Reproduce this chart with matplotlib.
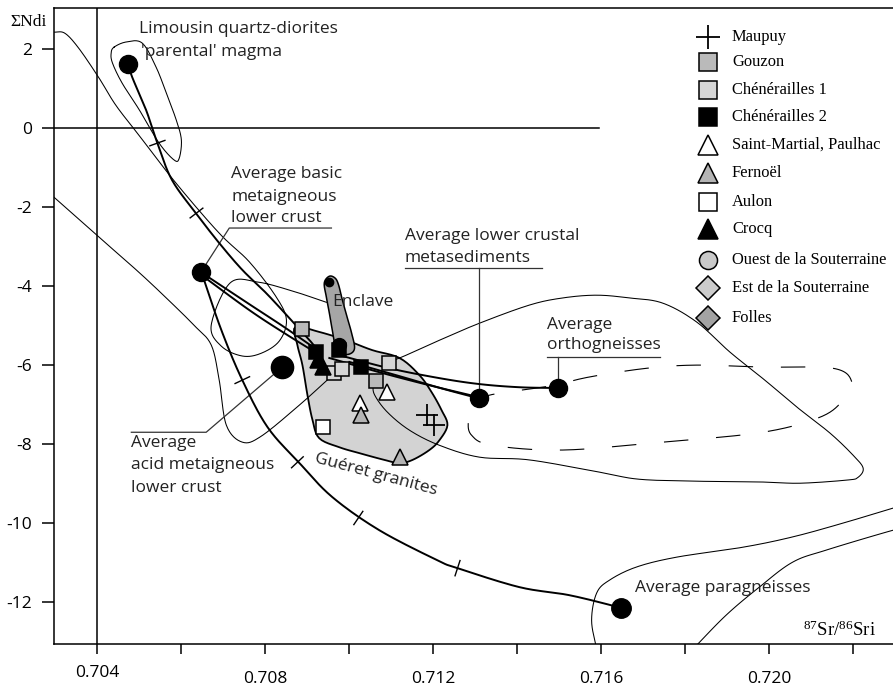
import numpy as np
import matplotlib
matplotlib.use("Agg")
import matplotlib.pyplot as plt
from matplotlib.patches import Polygon
from matplotlib.lines import Line2D
from matplotlib.transforms import ScaledTranslation

plt.rcParams["font.family"] = ["Open Sans", "DejaVu Sans"]
plt.rcParams["axes.unicode_minus"] = False
plt.rcParams["mathtext.fontset"] = "custom"
plt.rcParams["mathtext.rm"] = "Liberation Serif"
plt.rcParams["mathtext.it"] = "Liberation Serif:italic"

SERIF = ["Liberation Serif", "DejaVu Serif"]

# ---------------- data (87Sr/86Sr initial, eNd initial) ----------------
# end-members
magma = (0.70475, 1.62)
basic_lc = (0.70648, -3.65)
acid_lc = (0.70841, -6.05)
metased = (0.71308, -6.84)
ortho = (0.71496, -6.58)
paragn = (0.71646, -12.15)
enclave_top = (0.70953, -3.90)
enclave_core = (0.70977, -5.49)

# granite samples
maupuy_sr = [0.71186, 0.71203]
maupuy_nd = [-7.27, -7.52]
gouzon_sr = [0.70889, 0.71065]
gouzon_nd = [-5.09, -6.40]
chen1_sr = [0.70963, 0.70984, 0.71096]
chen1_nd = [-6.20, -6.10, -5.95]
chen2_sr = [0.70922, 0.70977, 0.71029]
chen2_nd = [-5.67, -5.62, -6.05]
stmartial_sr = [0.71091, 0.71025]
stmartial_nd = [-6.68, -6.96]
fernoel_sr = [0.71029, 0.71120]
fernoel_nd = [-7.27, -8.33]
aulon_sr = [0.70939]
aulon_nd = [-7.57]
crocq_sr = [0.70925, 0.70939]
crocq_nd = [-5.87, -6.05]

# Gueret granites field
gueret_sr = [0.70872, 0.70929, 0.70993, 0.71055, 0.71120, 0.71167, 0.71196, 0.71220,
             0.71234, 0.71215, 0.71191, 0.71151, 0.71120, 0.71084, 0.71025, 0.70977,
             0.70929, 0.70913, 0.70901, 0.70889, 0.70877]
gueret_nd = [-5.04, -5.16, -5.37, -5.62, -5.82, -6.25, -6.68, -7.14,
             -7.52, -7.90, -8.15, -8.40, -8.48, -8.40, -8.23, -8.08,
             -7.85, -7.39, -6.76, -6.00, -5.49]

# enclave field
encl_sr = [0.70941, 0.70946, 0.70953, 0.70960, 0.70967, 0.70979, 0.71001, 0.71013,
           0.71006, 0.70996, 0.70984, 0.70975, 0.70967, 0.70953]
encl_nd = [-3.92, -4.28, -4.68, -5.11, -5.49, -5.70, -5.72, -5.57,
           -5.19, -4.81, -4.35, -3.97, -3.80, -3.75]

# mixing curves
mix_magma_sr = [0.70475, 0.70484, 0.70517, 0.70544, 0.70579, 0.70639, 0.70691, 0.70746,
                0.70803, 0.70858, 0.70906, 0.70929]
mix_magma_nd = [1.62, 1.29, 0.46, -0.38, -1.32, -2.20, -2.91, -3.59,
                -4.18, -4.81, -5.37, -5.67]
mix_para_sr = [0.70651, 0.70696, 0.70746, 0.70806, 0.70882, 0.70960, 0.71072, 0.71210,
               0.71258, 0.71405, 0.71522, 0.71624, 0.71646]
mix_para_nd = [-3.72, -5.11, -6.38, -7.57, -8.48, -9.34, -10.18, -10.94,
               -11.14, -11.62, -11.82, -12.08, -12.15]
mix_b1_sr = [0.70655, 0.70763, 0.70846, 0.70925]
mix_b1_nd = [-3.70, -4.46, -5.04, -5.62]
mix_b2_sr = [0.70655, 0.70763, 0.70846, 0.70934]
mix_b2_nd = [-3.77, -4.61, -5.19, -5.77]
mix_m1_sr = [0.70953, 0.71072, 0.71191, 0.71308]
mix_m1_nd = [-5.82, -6.18, -6.51, -6.81]
mix_m2_sr = [0.71001, 0.71120, 0.71227, 0.71308]
mix_m2_nd = [-5.92, -6.28, -6.61, -6.84]
mix_o_sr = [0.70977, 0.71096, 0.71215, 0.71310, 0.71405, 0.71496]
mix_o_nd = [-5.75, -6.08, -6.33, -6.48, -6.56, -6.58]

# proportion marks on the curves
marks_magma_sr = [0.70544, 0.70637]
marks_magma_nd = [-0.38, -2.15]
marks_para_sr = [0.70746, 0.70877, 0.71022, 0.71258]
marks_para_nd = [-6.38, -8.46, -9.87, -11.14]

# thin fields
limousin_sr = [0.70441, 0.70470, 0.70508, 0.70541, 0.70565, 0.70589, 0.70601, 0.70596,
               0.70584, 0.70548, 0.70501, 0.70460, 0.70437, 0.70434]
limousin_nd = [2.05, 2.18, 2.15, 1.54, 0.89, 0.20, -0.30, -0.76,
               -0.81, -0.38, 0.46, 1.14, 1.65, 1.90]
env_sr = [0.70298, 0.70324, 0.70357, 0.70405, 0.70445, 0.70500, 0.70588, 0.70691,
          0.70763, 0.70827, 0.70851, 0.70834, 0.70791, 0.70746, 0.70696, 0.70672,
          0.70717, 0.70784, 0.70867, 0.70946]
env_nd = [2.43, 2.40, 2.02, 1.27, 0.58, -0.18, -1.39, -2.66,
          -3.39, -4.28, -4.86, -5.39, -5.70, -5.77, -5.52, -4.99,
          -3.92, -3.90, -4.13, -4.41]
loop_sr = [0.70298, 0.70405, 0.70500, 0.70571, 0.70631, 0.70672, 0.70691, 0.70708,
           0.70746, 0.70791, 0.70882, 0.70953]
loop_nd = [-1.75, -2.76, -3.65, -4.36, -4.99, -5.49, -6.38, -7.52,
           -7.95, -7.80, -7.01, -6.33]
big_sr = [0.71079, 0.71120, 0.71215, 0.71310, 0.71429, 0.71508, 0.71589, 0.71667,
          0.71746, 0.71827, 0.71906, 0.71989, 0.72065, 0.72144, 0.72199, 0.72223,
          0.72211, 0.72185, 0.72073, 0.71985, 0.71834, 0.71691, 0.71596, 0.71429,
          0.71310, 0.71215, 0.71144, 0.71091, 0.71061, 0.71058, 0.71068]
big_nd = [-5.95, -5.82, -5.37, -4.94, -4.48, -4.30, -4.23, -4.30,
          -4.43, -4.91, -5.67, -6.38, -7.06, -7.72, -8.28, -8.61,
          -8.84, -8.91, -8.99, -8.96, -8.94, -8.89, -8.71, -8.40,
          -8.33, -8.03, -7.65, -7.19, -6.76, -6.51, -6.33]
dash_sr = [0.71296, 0.71334, 0.71477, 0.71572, 0.71708, 0.71827, 0.71984, 0.72151,
           0.72196, 0.72175, 0.72120, 0.71984, 0.71746, 0.71508, 0.71341, 0.71291,
           0.71284]
dash_nd = [-7.01, -6.76, -6.53, -6.30, -6.08, -6.00, -6.05, -6.08,
           -6.43, -6.89, -7.32, -7.70, -7.95, -8.15, -8.03, -7.77,
           -7.39]
para1_sr = [0.71589, 0.71577, 0.71589, 0.71620, 0.71684, 0.71780, 0.71937, 0.72055,
            0.72175, 0.72294, 0.72340]
para1_nd = [-13.20, -12.46, -11.77, -11.44, -11.11, -10.86, -10.61, -10.35,
            -10.00, -9.62, -9.49]
para2_sr = [0.71817, 0.71897, 0.71976, 0.72055, 0.72136, 0.72294, 0.72340]
para2_nd = [-13.20, -12.33, -11.62, -10.99, -10.68, -10.18, -10.08]

x_ticks = [0.704, 0.706, 0.708, 0.710, 0.712, 0.714, 0.716, 0.718, 0.720, 0.722]
x_labels = ["0.704", "", "0.708", "", "0.712", "", "0.716", "", "0.720", ""]
y_ticks = [2, 0, -2, -4, -6, -8, -10, -12]
y_labels = ["2", "0", "-2", "-4", "-6", "-8", "-10", "-12"]


def smooth(xs, ys, closed=False, n=16):
    """Catmull-Rom path through the given vertices."""
    P = np.column_stack([xs, ys]).astype(float)
    if closed:
        P = np.vstack([P[-1], P, P[0], P[1]])
    else:
        P = np.vstack([2 * P[0] - P[1], P, 2 * P[-1] - P[-2]])
    t = np.linspace(0, 1, n, endpoint=False)[:, None]
    out = []
    for i in range(1, len(P) - 2):
        p0, p1, p2, p3 = P[i - 1], P[i], P[i + 1], P[i + 2]
        out.append(0.5 * (2 * p1 + (-p0 + p2) * t
                          + (2 * p0 - 5 * p1 + 4 * p2 - p3) * t ** 2
                          + (-p0 + 3 * p1 - 3 * p2 + p3) * t ** 3))
    out.append(P[-2][None, :])
    a = np.vstack(out)
    return a[:, 0], a[:, 1]


fig = plt.figure(figsize=(8.93, 6.86), dpi=100)
ax = fig.add_axes([54 / 893, 42 / 686, 839 / 893, 636 / 686])
ax.set_xlim(0.70298, 0.72294)
ax.set_ylim(-13.06, 3.04)

# frame and reference lines
for s in ("left", "bottom", "top"):
    ax.spines[s].set_linewidth(1.1)
ax.spines["right"].set_visible(False)
ax.axvline(0.704, color="black", lw=1.1, zorder=1)
ax.plot([0.70298, 0.71595], [0, 0], color="black", lw=1.1, zorder=1)

ax.set_xticks(x_ticks)
ax.set_xticklabels(x_labels)
ax.set_yticks(y_ticks)
ax.set_yticklabels(y_labels)
ax.tick_params(axis="x", direction="out", length=7, width=1.1, pad=8, labelsize=12.5)
ax.tick_params(axis="y", direction="out", length=9, width=1.1, pad=7, labelsize=12.5)
# the first x label sits a little higher than the others
for lbl in ax.get_xticklabels()[1:]:
    lbl.set_transform(lbl.get_transform() + ScaledTranslation(0, -0.06, fig.dpi_scale_trans))

# Gueret granites field
ax.add_patch(Polygon(np.column_stack(smooth(gueret_sr, gueret_nd, closed=True, n=6)),
                     closed=True, facecolor="#d3d3d3", edgecolor="black", lw=1.3, zorder=1.5))

# thin field outlines
thin = dict(color="black", lw=0.75, zorder=2)
ax.plot(*smooth(limousin_sr, limousin_nd, closed=True), **thin)
ax.plot(*smooth(env_sr, env_nd), **thin)
ax.plot(*smooth(loop_sr, loop_nd), **thin)
ax.plot(*smooth(big_sr, big_nd), **thin)
ax.plot(*smooth(para1_sr, para1_nd), **thin)
ax.plot(*smooth(para2_sr, para2_nd), **thin)
ax.plot(*smooth(dash_sr, dash_nd, closed=True), color="black", lw=0.8,
        dashes=(22, 25), zorder=2)

# enclave field
ax.add_patch(Polygon(np.column_stack(smooth(encl_sr, encl_nd, closed=True, n=6)),
                     closed=True, facecolor="#a6a6a6", edgecolor="black", lw=1.1, zorder=3.5))

# mixing curves
thick = dict(color="black", lw=1.4, zorder=3)
curves = [(mix_magma_sr, mix_magma_nd), (mix_para_sr, mix_para_nd),
          (mix_b1_sr, mix_b1_nd), (mix_b2_sr, mix_b2_nd),
          (mix_m1_sr, mix_m1_nd), (mix_m2_sr, mix_m2_nd), (mix_o_sr, mix_o_nd)]
for cx, cy in curves:
    ax.plot(*smooth(cx, cy), **thick)


def cross_marks(cx, cy, mx, my, half=8):
    """Short strokes across a curve at the given points (half length in pixels)."""
    T = ax.transData
    pts = T.transform(np.column_stack(smooth(cx, cy)))
    for x0, y0 in zip(mx, my):
        p = T.transform((x0, y0))
        i = int(np.argmin(np.hypot(*(pts - p).T)))
        j0, j1 = max(i - 2, 0), min(i + 2, len(pts) - 1)
        d = pts[j1] - pts[j0]
        d = d / np.hypot(*d)
        nrm = np.array([-d[1], d[0]])
        seg = T.inverted().transform(np.vstack([p - nrm * half, p + nrm * half]))
        ax.plot(seg[:, 0], seg[:, 1], color="black", lw=1.0, zorder=3)


cross_marks(mix_magma_sr, mix_magma_nd, marks_magma_sr, marks_magma_nd)
cross_marks(mix_para_sr, mix_para_nd, marks_para_sr, marks_para_nd)

# label leaders
lead = dict(color="#333333", lw=0.9, zorder=2.5)
ax.plot([0.70660, 0.70715, 0.70958], [-3.44, -2.53, -2.53], **lead)
ax.plot([0.71132, 0.71460], [-3.54, -3.54], **lead)
ax.plot([metased[0], metased[0]], [-3.54, metased[1]], **lead)
ax.plot([0.71472, 0.71739], [-5.80, -5.80], **lead)
ax.plot([ortho[0], ortho[0]], [-5.80, ortho[1]], **lead)
ax.plot([0.70482, 0.70660, acid_lc[0]], [-7.70, -7.70, acid_lc[1]], **lead)

# samples
edge = dict(markeredgecolor="black", markeredgewidth=1.1, ls="none", zorder=4)
ax.plot(gouzon_sr, gouzon_nd, marker="s", ms=10.5, markerfacecolor="#bababa", **edge)
ax.plot(chen1_sr, chen1_nd, marker="s", ms=10.5, markerfacecolor="#d6d6d6", **edge)
ax.plot(stmartial_sr, stmartial_nd, marker="^", ms=12, markerfacecolor="white", **edge)
ax.plot(fernoel_sr, fernoel_nd, marker="^", ms=12, markerfacecolor="#b4b4b4", **edge)
ax.plot(aulon_sr, aulon_nd, marker="s", ms=10.5, markerfacecolor="white", **edge)
ax.plot(crocq_sr, crocq_nd, marker="^", ms=12, markerfacecolor="black", **edge)
ax.plot(chen2_sr, chen2_nd, marker="s", ms=10.5, markerfacecolor="black", **edge)
ax.plot(maupuy_sr, maupuy_nd, marker="+", ms=16, markeredgecolor="black",
        markeredgewidth=1.3, ls="none", zorder=4)

# end-member compositions
for (sx, sy), ms in [(magma, 13), (basic_lc, 13), (acid_lc, 16), (metased, 13),
                     (ortho, 13), (paragn, 14), (enclave_core, 10), (enclave_top, 6)]:
    ax.plot(sx, sy, "o", ms=ms, color="black", zorder=5)

# annotations
lab = dict(fontsize=12.5, color="#222222", va="center", ha="left", zorder=6)
ax.text(0.70501, 2.51, "Limousin quartz-diorites", **lab)
ax.text(0.70506, 1.92, "'parental' magma", **lab)
ax.text(0.70720, -1.16, "Average basic", **lab)
ax.text(0.70720, -1.74, "metaigneous", **lab)
ax.text(0.70720, -2.28, "lower crust", **lab)
ax.text(0.71132, -2.72, "Average lower crustal", **lab)
ax.text(0.71132, -3.28, "metasediments", **lab)
ax.text(0.71472, -4.98, "Average", **lab)
ax.text(0.71472, -5.50, "orthogneisses", **lab)
ax.text(0.70960, -4.41, "Enclave", **lab)
ax.text(0.70482, -7.98, "Average", **lab)
ax.text(0.70482, -8.53, "acid metaigneous", **lab)
ax.text(0.70482, -9.10, "lower crust", **lab)
ax.text(0.71680, -11.65, "Average paragneisses", **lab)
ax.text(0.70920, -8.35, "Guéret granites", fontsize=12.5, color="#222222",
        rotation=-15, rotation_mode="anchor", ha="left", va="center", zorder=6)

fig.text(10 / 893, 1 - 22 / 686, "ΣNdi", family=SERIF, fontsize=12.5, va="center", ha="left")
ax.text(0.72079, -12.72, r"$^{87}$Sr/$^{86}$Sri", family=SERIF, fontsize=13.5,
        va="center", ha="left")

# legend
leg_items = [
    ("Maupuy", dict(marker="+", ms=17, markeredgewidth=1.3, markeredgecolor="black")),
    ("Gouzon", dict(marker="s", ms=13, markerfacecolor="#bababa")),
    ("Chénérailles 1", dict(marker="s", ms=13, markerfacecolor="#d6d6d6")),
    ("Chénérailles 2", dict(marker="s", ms=13, markerfacecolor="black")),
    ("Saint-Martial, Paulhac", dict(marker="^", ms=15, markerfacecolor="white")),
    ("Fernoël", dict(marker="^", ms=15, markerfacecolor="#b4b4b4")),
    ("Aulon", dict(marker="s", ms=13, markerfacecolor="white")),
    ("Crocq", dict(marker="^", ms=15, markerfacecolor="black")),
    ("Ouest de la Souterraine", dict(marker="o", ms=13, markerfacecolor="#c9c9c9")),
    ("Est de la Souterraine", dict(marker="D", ms=12.5, markerfacecolor="#cccccc")),
    ("Folles", dict(marker="D", ms=12.5, markerfacecolor="#a3a3a3")),
]
leg_y = [37, 62, 90, 117, 145, 173, 202, 229, 260, 288, 318]
for (name, style), py in zip(leg_items, leg_y):
    yf = 1 - py / 686
    st = dict(markeredgecolor="black", markeredgewidth=1.1)
    st.update(style)
    fig.add_artist(Line2D([708 / 893], [yf], transform=fig.transFigure, ls="none", **st))
    fig.text(732 / 893, yf, name, family=SERIF, fontsize=11.9, va="center", ha="left")

fig.savefig("out.png", dpi=100)
